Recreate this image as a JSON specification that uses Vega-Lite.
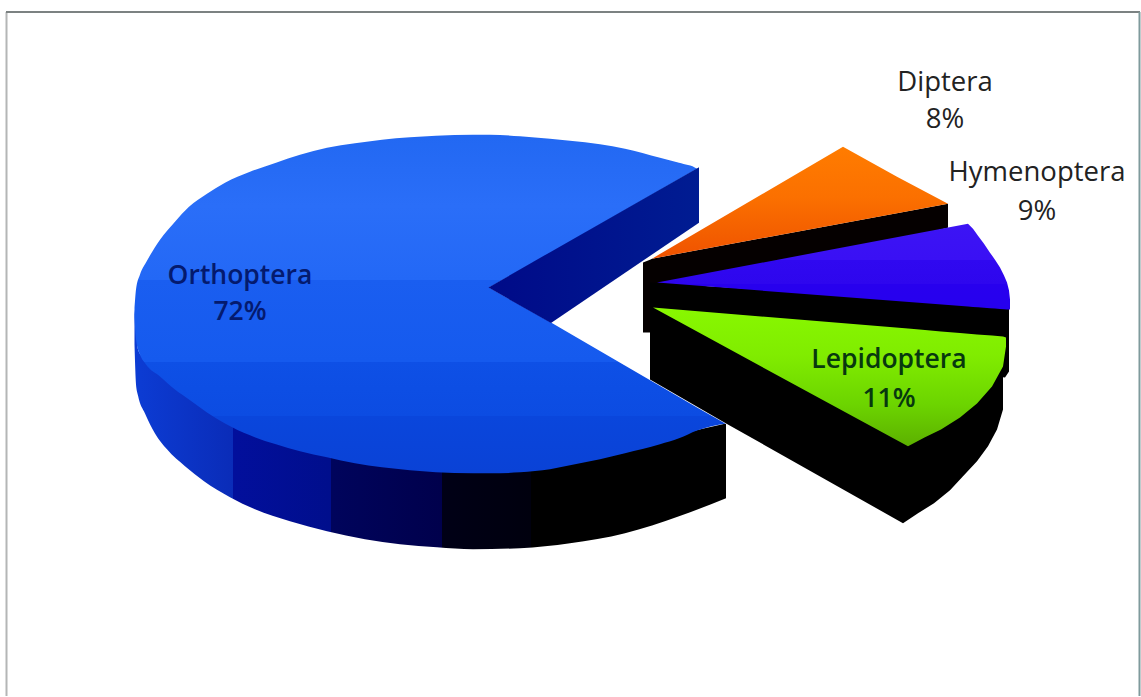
{
"$schema":"https://vega.github.io/schema/vega-lite/v6.json",
"width":1141,"height":697,"padding":0,
"autosize":{"type":"fit","contains":"padding"},
"background":"#ffffff",
"view":{"stroke":null},
"resolve":{"scale":{"color":"independent"}},
"datasets":{
"frame":[{"x":6.5,"y":12,"x2":6.5,"y2":697,"edge":"left"},{"x":6,"y":12,"x2":1140,"y2":12,"edge":"top"},{"x":1139.5,"y":12,"x2":1139.5,"y2":697,"edge":"right"}],
"orthopteraSide":[{"x":134.5,"y":310,"y2":345},{"x":136,"y":325,"y2":385},{"x":138,"y":350,"y2":396},{"x":145,"y":360,"y2":414},{"x":155,"y":370,"y2":434},{"x":167,"y":380,"y2":450},{"x":185,"y":390,"y2":467},{"x":204,"y":400,"y2":482},{"x":230,"y":420,"y2":498},{"x":255,"y":435,"y2":510},{"x":290,"y":445,"y2":522},{"x":327,"y":455,"y2":532},{"x":365,"y":462,"y2":540},{"x":400,"y":465,"y2":545},{"x":437,"y":468,"y2":548},{"x":473,"y":470,"y2":550},{"x":520,"y":468,"y2":549},{"x":570,"y":460,"y2":544},{"x":625,"y":450,"y2":534},{"x":679,"y":435,"y2":517},{"x":726,"y":424,"y2":499}],
"orthopteraTop":[{"x":134.5,"y":308,"y2":318},{"x":136,"y":290,"y2":340},{"x":140,"y":275,"y2":355},{"x":146,"y":263,"y2":365},{"x":160,"y":240,"y2":377},{"x":175,"y":222,"y2":390},{"x":189,"y":207,"y2":400},{"x":207,"y":194,"y2":413},{"x":225,"y":183,"y2":424},{"x":250,"y":172,"y2":436},{"x":276,"y":163,"y2":445},{"x":300,"y":155,"y2":452},{"x":327,"y":148,"y2":458},{"x":355,"y":143.5,"y2":464},{"x":382,"y":140,"y2":468},{"x":410,"y":137.5,"y2":471},{"x":436,"y":136,"y2":473},{"x":473,"y":135,"y2":474},{"x":490,"y":135,"y2":474},{"x":520,"y":136.5,"y2":473},{"x":550,"y":139,"y2":470},{"x":570,"y":141,"y2":466},{"x":600,"y":144.5,"y2":460},{"x":625,"y":149,"y2":454},{"x":660,"y":158,"y2":445},{"x":679,"y":163,"y2":439},{"x":697,"y":169,"y2":431},{"x":726,"y":424,"y2":424}],
"notch":[{"x":489,"y":288,"y2":288},{"x":551,"y":253,"y2":323},{"x":697,"y":169,"y2":408},{"x":727,"y":160,"y2":425}],
"orthopteraWall":[{"x":488.5,"y":288,"y2":288},{"x":551,"y":252,"y2":323.5},{"x":699,"y":167.5,"y2":223}],
"dipteraSide":[{"x":643,"y":263,"y2":333},{"x":650,"y":260,"y2":333},{"x":652,"y":259,"y2":300},{"x":948,"y":204,"y2":228}],
"dipteraTop":[{"x":652,"y":259,"y2":259},{"x":843,"y":147,"y2":223.5},{"x":897,"y":177,"y2":213.5},{"x":948,"y":204,"y2":204}],
"hymenopteraSide":[{"x":650,"y":283,"y2":335},{"x":1005,"y":305,"y2":378},{"x":1009,"y":300,"y2":372}],
"hymenopteraTop":[{"x":657,"y":283,"y2":283},{"x":968,"y":224,"y2":307},{"x":973,"y":229,"y2":307.4},{"x":978,"y":236,"y2":307.8},{"x":984,"y":244,"y2":308.2},{"x":990,"y":253,"y2":308.6},{"x":995,"y":260,"y2":309},{"x":1000,"y":268,"y2":309.4},{"x":1004,"y":276,"y2":309.7},{"x":1007,"y":283,"y2":310},{"x":1009,"y":291,"y2":310},{"x":1010,"y":300,"y2":310}],
"lepidopteraSide":[{"x":650,"y":300,"y2":380},{"x":727,"y":341,"y2":424.5},{"x":903,"y":434,"y2":524},{"x":918,"y":430,"y2":514},{"x":934,"y":425,"y2":504},{"x":950,"y":410,"y2":491},{"x":963,"y":395,"y2":477},{"x":977,"y":382,"y2":462},{"x":988,"y":370,"y2":447},{"x":997,"y":355,"y2":430},{"x":1003,"y":340,"y2":410}],
"lepidopteraTop":[{"x":653,"y":308,"y2":308},{"x":908,"y":329,"y2":447},{"x":925,"y":330.5,"y2":438},{"x":941,"y":332,"y2":430},{"x":960,"y":333.5,"y2":418},{"x":977,"y":335,"y2":404},{"x":992,"y":336,"y2":387},{"x":1003,"y":337,"y2":367},{"x":1006,"y":338,"y2":347}],
"outsideLabels":[{"name":"Diptera","share":0.08,"x":945,"nameY":83,"shareY":120},{"name":"Hymenoptera","share":0.09,"x":1037,"nameY":173,"shareY":212}],
"insideLabels":[{"name":"Orthoptera","share":0.72,"x":240,"nameY":276,"shareY":312},{"name":"Lepidoptera","share":0.11,"x":889,"nameY":361,"shareY":400}]
},
"encoding":{
"x":{"field":"x","type":"quantitative","axis":null,"scale":{"domain":[0,1141],"nice":false,"zero":false}},
"y":{"field":"y","type":"quantitative","axis":null,"scale":{"domain":[697,0],"nice":false,"zero":false}}
},
"layer":[
{"data":{"name":"frame"},"mark":{"type":"rule","strokeWidth":2},
 "encoding":{"x2":{"field":"x2"},"y2":{"field":"y2"},
 "color":{"field":"edge","type":"nominal","legend":null,"scale":{"domain":["left","top","right"],"range":["#b4b6b6","#7c8282","#7f9a9c"]}}}},
{"encoding":{"y2":{"field":"y2"}},
 "layer":[
 {"data":{"name":"orthopteraSide"},"mark":{"type":"area","interpolate":"monotone","color":{"gradient":"linear","x1":0,"y1":0,"x2":1,"y2":0,"stops":[{"offset":0,"color":"#0c3cd4"},{"offset":0.167,"color":"#0a2cb8"},{"offset":0.167,"color":"#020f9c"},{"offset":0.333,"color":"#000e8c"},{"offset":0.333,"color":"#00045c"},{"offset":0.52,"color":"#00004c"},{"offset":0.52,"color":"#000016"},{"offset":0.67,"color":"#00000e"},{"offset":0.67,"color":"#000000"},{"offset":1,"color":"#000000"}]}}},
 {"data":{"name":"orthopteraTop"},"mark":{"type":"area","interpolate":"monotone","color":{"gradient":"linear","x1":0,"y1":0,"x2":0,"y2":1,"stops":[{"offset":0,"color":"#2268f2"},{"offset":0.21,"color":"#2a6ef8"},{"offset":0.43,"color":"#2368f6"},{"offset":0.43,"color":"#1a5ef0"},{"offset":0.67,"color":"#155aee"},{"offset":0.67,"color":"#0e50e6"},{"offset":0.83,"color":"#0c4ce2"},{"offset":0.83,"color":"#0a46dc"},{"offset":1,"color":"#0a42d6"}]}}},
 {"data":{"name":"notch"},"mark":{"type":"area","color":"#ffffff"}},
 {"data":{"name":"orthopteraWall"},"mark":{"type":"area","color":{"gradient":"linear","x1":0,"y1":0,"x2":1,"y2":0,"stops":[{"offset":0,"color":"#000a88"},{"offset":1,"color":"#001c92"}]}}},
 {"data":{"name":"dipteraSide"},"mark":{"type":"area","color":"#050000"}},
 {"data":{"name":"dipteraTop"},"mark":{"type":"area","color":{"gradient":"linear","x1":0,"y1":0,"x2":0,"y2":1,"stops":[{"offset":0,"color":"#ff7c00"},{"offset":0.45,"color":"#fb7000"},{"offset":0.75,"color":"#f46000"},{"offset":1,"color":"#f05200"}]}}},
 {"data":{"name":"hymenopteraSide"},"mark":{"type":"area","color":"#000000"}},
 {"data":{"name":"hymenopteraTop"},"mark":{"type":"area","color":{"gradient":"linear","x1":0,"y1":0,"x2":0,"y2":1,"stops":[{"offset":0,"color":"#3c14f4"},{"offset":0.42,"color":"#3a10f4"},{"offset":0.42,"color":"#3008f0"},{"offset":0.7,"color":"#2e06ee"},{"offset":0.7,"color":"#2800ee"},{"offset":1,"color":"#2600ee"}]}}},
 {"data":{"name":"lepidopteraSide"},"mark":{"type":"area","color":"#000000"}},
 {"data":{"name":"lepidopteraTop"},"mark":{"type":"area","color":{"gradient":"linear","x1":0,"y1":0,"x2":0,"y2":1,"stops":[{"offset":0,"color":"#88f800"},{"offset":0.35,"color":"#80ec00"},{"offset":0.7,"color":"#6cd400"},{"offset":1,"color":"#5cb000"}]}}}
 ]},
{"data":{"name":"outsideLabels"},"mark":{"type":"text","font":"Open Sans","fontSize":27.5,"color":"#222222","align":"center","baseline":"middle"},
 "encoding":{"y":{"field":"nameY","type":"quantitative"},"text":{"field":"name"}}},
{"data":{"name":"outsideLabels"},"mark":{"type":"text","font":"Open Sans","fontSize":27.5,"color":"#222222","align":"center","baseline":"middle"},
 "encoding":{"y":{"field":"shareY","type":"quantitative"},"text":{"field":"share","type":"quantitative","format":".0%"}}},
{"data":{"name":"insideLabels"},"mark":{"type":"text","font":"Open Sans","fontSize":26.5,"fontWeight":600,"color":"#041a6e","align":"center","baseline":"middle"},
 "transform":[{"filter":"datum.name === 'Orthoptera'"}],
 "encoding":{"y":{"field":"nameY","type":"quantitative"},"text":{"field":"name"}}},
{"data":{"name":"insideLabels"},"mark":{"type":"text","font":"Open Sans","fontSize":26.5,"fontWeight":600,"color":"#041a6e","align":"center","baseline":"middle"},
 "transform":[{"filter":"datum.name === 'Orthoptera'"}],
 "encoding":{"y":{"field":"shareY","type":"quantitative"},"text":{"field":"share","type":"quantitative","format":".0%"}}},
{"data":{"name":"insideLabels"},"mark":{"type":"text","font":"Open Sans","fontSize":26.5,"fontWeight":600,"color":"#07380f","align":"center","baseline":"middle"},
 "transform":[{"filter":"datum.name === 'Lepidoptera'"}],
 "encoding":{"y":{"field":"nameY","type":"quantitative"},"text":{"field":"name"}}},
{"data":{"name":"insideLabels"},"mark":{"type":"text","font":"Open Sans","fontSize":26.5,"fontWeight":600,"color":"#07380f","align":"center","baseline":"middle"},
 "transform":[{"filter":"datum.name === 'Lepidoptera'"}],
 "encoding":{"y":{"field":"shareY","type":"quantitative"},"text":{"field":"share","type":"quantitative","format":".0%"}}}
]
}
